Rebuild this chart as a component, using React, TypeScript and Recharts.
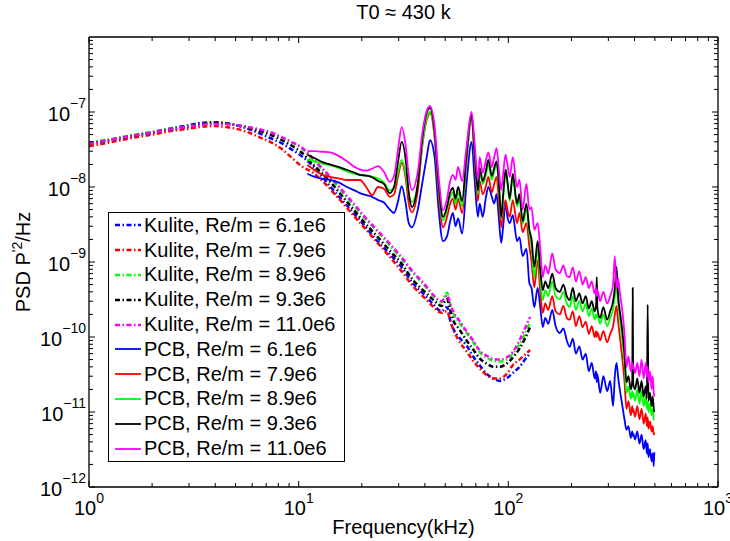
import React from 'react';
import { LineChart, Line, XAxis, YAxis, Legend } from 'recharts';

const kuliteFreq = [
  1, 1.3, 1.6, 2, 2.5, 3, 3.5, 4, 4.5, 5, 5.7, 6.5, 7.3, 8.2, 9.2, 10.3, 11.7, 13, 14.6, 16.5,
  18.5, 20.5, 23, 27, 31, 35, 40, 44, 48, 51, 53, 55, 58, 63, 68, 73, 79, 85, 91, 98,
  105, 113, 120, 127,
];

const kuliteBlue = [
  3.8e-8, 4.3e-8, 4.8e-8, 5.4e-8, 6.1e-8, 6.7e-8, 7.2e-8, 7.3e-8, 7.1e-8, 6.7e-8,
  6.0e-8, 5.2e-8, 4.5e-8, 3.9e-8, 3.2e-8, 2.6e-8, 1.9e-8, 1.35e-8, 9.1e-9, 6.2e-9,
  4.3e-9, 3.1e-9, 2.1e-9, 1.3e-9, 8.5e-10, 5.2e-10, 3.6e-10, 2.7e-10, 2.2e-10, 2.5e-10,
  1.6e-10, 1.24e-10, 1.0e-10, 7.8e-11, 5.5e-11, 4.2e-11, 3.2e-11, 2.8e-11, 2.6e-11, 2.8e-11,
  3.3e-11, 4.0e-11, 5.0e-11, 6.1e-11,
];
const kuliteRed = [
  3.5e-8, 4.0e-8, 4.5e-8, 5.0e-8, 5.6e-8, 6.0e-8, 6.4e-8, 6.5e-8, 6.3e-8, 6.0e-8,
  5.4e-8, 4.6e-8, 4.0e-8, 3.3e-8, 2.5e-8, 1.9e-8, 1.55e-8, 1.2e-8, 8.5e-9, 5.8e-9,
  4.0e-9, 2.9e-9, 2.0e-9, 1.2e-9, 7.5e-10, 4.8e-10, 3.3e-10, 2.5e-10, 2.1e-10, 2.2e-10,
  1.6e-10, 1.2e-10, 9e-11, 6.5e-11, 4.8e-11, 3.8e-11, 3.1e-11, 2.8e-11, 2.8e-11, 3.2e-11,
  4.2e-11, 5.0e-11, 5.8e-11, 6.7e-11,
];
const kuliteGreen = [
  3.9e-8, 4.4e-8, 4.9e-8, 5.4e-8, 6.0e-8, 6.5e-8, 6.9e-8, 7.0e-8, 6.9e-8, 6.7e-8,
  6.3e-8, 5.8e-8, 5.3e-8, 4.6e-8, 4.0e-8, 3.3e-8, 2.3e-8, 1.7e-8, 1.2e-8, 8e-9,
  5.5e-9, 3.9e-9, 2.8e-9, 1.7e-9, 1.1e-9, 7.2e-10, 4.8e-10, 3.5e-10, 2.9e-10, 3.9e-10,
  2.6e-10, 2.0e-10, 1.6e-10, 1.15e-10, 8.5e-11, 6.3e-11, 5.3e-11, 4.8e-11, 4.7e-11, 5.0e-11,
  6.0e-11, 8.0e-11, 1.1e-10, 1.6e-10,
];
const kuliteBlack = [
  3.8e-8, 4.3e-8, 4.8e-8, 5.3e-8, 5.9e-8, 6.4e-8, 6.9e-8, 7.1e-8, 7.0e-8, 6.7e-8,
  6.2e-8, 5.6e-8, 5.0e-8, 4.3e-8, 3.6e-8, 2.9e-8, 2.0e-8, 1.5e-8, 1.06e-8, 7e-9,
  4.8e-9, 3.4e-9, 2.4e-9, 1.45e-9, 9.5e-10, 5.8e-10, 4.0e-10, 3.1e-10, 2.6e-10, 3.2e-10,
  2.2e-10, 1.6e-10, 1.3e-10, 9.1e-11, 6.8e-11, 5.2e-11, 4.4e-11, 4.0e-11, 4.0e-11, 4.4e-11,
  5.3e-11, 7e-11, 9.5e-11, 1.36e-10,
];
const kuliteMagenta = [
  3.8e-8, 4.3e-8, 4.8e-8, 5.3e-8, 5.9e-8, 6.4e-8, 6.8e-8, 6.9e-8, 6.9e-8, 6.7e-8,
  6.3e-8, 5.9e-8, 5.4e-8, 4.7e-8, 4.0e-8, 3.4e-8, 2.4e-8, 1.75e-8, 1.25e-8, 8.4e-9,
  5.8e-9, 4.1e-9, 2.9e-9, 1.8e-9, 1.15e-9, 7.5e-10, 5.0e-10, 3.6e-10, 3.0e-10, 3.6e-10,
  2.7e-10, 2.1e-10, 1.7e-10, 1.2e-10, 9e-11, 6.6e-11, 5.6e-11, 5.1e-11, 5.0e-11, 5.3e-11,
  6.3e-11, 9e-11, 1.3e-10, 1.85e-10,
];

const pcbFreq = [
  11, 12, 13, 14.1, 15.5, 17, 18.5, 19.6, 21, 22.4, 23.9, 25.5, 27.2, 28.5, 29.8, 31, 32.4, 33.5, 34.7, 37, 39, 40.9,
  42.3, 44.5, 46.5, 48.8, 51, 52.8, 54.4, 56, 57.6, 60.2, 63, 66.8, 69, 71.6, 73, 75.5, 78, 80.3, 83.4, 85.6,
  87.9, 90, 92.5, 94.5, 97, 99, 101.5, 105, 110, 113, 117, 122, 126, 129, 133, 138,
  142, 146, 150, 155, 162, 168, 176, 183, 190, 196, 203, 210, 218, 226, 234, 242, 250, 258, 262, 264,
  266, 274, 284, 296, 306, 316, 322, 328, 334, 342, 350, 358, 366, 374, 384, 390, 392, 394, 402, 412,
  422, 432, 442, 452, 458, 462, 466, 474, 482, 488, 494, 497,
];

const pcbBlue = [
  1.5e-8, 1.35e-8, 1.28e-8, 1.24e-8, 1.15e-8, 1.0e-8, 9.0e-9, 8.3e-9, 7.8e-9, 7.4e-9, 6.7e-9, 6.2e-9, 5.0e-9, 4.5e-9, 6.5e-9, 1.03e-8, 6.0e-9, 3.3e-9, 2.9e-9, 5.0e-9, 1.2e-8, 2.6e-8,
  4.2e-8, 2.5e-8, 5e-9, 1.9e-9, 2.2e-9, 3.5e-9, 4.5e-9, 3e-9, 3.8e-9, 2.4e-9, 1.0e-8, 4.0e-8, 1.3e-8, 4e-9, 6e-9, 4e-9, 7e-9, 1.0e-8, 7.4e-9, 6e-9,
  8e-9, 4e-9, 1.8e-9, 3e-9, 6.1e-9, 4e-9, 3.3e-9, 4.2e-9, 1.9e-9, 2.15e-9, 1.2e-9, 1.5e-9, 5.2e-10, 4.5e-10, 2.5e-10, 4.5e-10,
  2.5e-10, 1.36e-10, 1.8e-10, 1.5e-10, 2.3e-10, 1.4e-10, 1.13e-10, 1.3e-10, 9e-11, 7.4e-11, 9.5e-11, 6e-11, 7.5e-11, 5e-11, 6e-11, 3.5e-11, 4.5e-11, 2.8e-11, 3.5e-11, 2.5e-11,
  3.2e-11, 1.8e-11, 3.0e-11, 1.9e-11, 2.6e-11, 1.2e-11, 3.0e-11, 4.5e-11, 2.9e-11, 1.8e-11, 1.2e-11, 8e-12, 5.8e-12, 6.5e-12, 4.5e-12, 5.5e-12, 4.8e-12, 5.2e-12, 4.3e-12, 5.5e-12,
  3.8e-12, 5e-12, 3.2e-12, 4.2e-12, 2.8e-12, 3.8e-12, 2.5e-12, 3.2e-12, 2.2e-12, 2.8e-12, 1.9e-12, 2.9e-12,
];
const pcbRed = [
  1.96e-8, 1.65e-8, 1.45e-8, 1.36e-8, 1.3e-8, 1.24e-8, 1.24e-8, 1.24e-8, 1.0e-8, 7.8e-9, 1.0e-8, 9.5e-9, 7.4e-9, 8.0e-9, 1.4e-8, 2.1e-8, 1.3e-8, 6.0e-9, 4.6e-9, 9.0e-9, 3.8e-8, 8.0e-8,
  9.7e-8, 4.5e-8, 8e-9, 2.9e-9, 4e-9, 6e-9, 7e-9, 5e-9, 7e-9, 4.5e-9, 2.0e-8, 8.6e-8, 2.5e-8, 6.5e-9, 1.2e-8, 8e-9, 1.0e-8, 1.36e-8, 8.5e-9, 1.1e-8,
  1.36e-8, 7e-9, 2.9e-9, 4.5e-9, 6.7e-9, 5e-9, 4e-9, 6.7e-9, 3.3e-9, 4.5e-9, 2.5e-9, 3.3e-9, 1.6e-9, 1.0e-9, 4.6e-10, 1.05e-9,
  4e-10, 2.1e-10, 2.8e-10, 2.3e-10, 3.5e-10, 2.2e-10, 2.0e-10, 2.6e-10, 1.8e-10, 1.7e-10, 2.2e-10, 1.4e-10, 1.9e-10, 1.35e-10, 1.6e-10, 1.1e-10, 1.4e-10, 1.0e-10, 1.2e-10, 1.0e-10,
  1.15e-10, 9e-11, 1.2e-10, 8.5e-11, 1.1e-10, 1.4e-10, 2.0e-10, 2.6e-10, 1.6e-10, 9e-11, 5e-11, 2.6e-11, 1.1e-11, 1.4e-11, 9e-12, 1.2e-11, 1.0e-11, 1.1e-11, 8.6e-12, 1.2e-11,
  8e-12, 1.1e-11, 7e-12, 9.5e-12, 6.5e-12, 8.5e-12, 6e-12, 7.5e-12, 5.5e-12, 6.5e-12, 5e-12, 5.3e-12,
];
const pcbGreen = [
  2.3e-8, 2.2e-8, 2.05e-8, 1.95e-8, 1.8e-8, 1.62e-8, 1.5e-8, 1.45e-8, 1.42e-8, 1.38e-8, 1.3e-8, 1.15e-8, 9.0e-9, 1.0e-8, 1.6e-8, 2.3e-8, 1.5e-8, 8.0e-9, 6.3e-9, 1.1e-8, 4.0e-8, 8.5e-8,
  1.0e-7, 5.0e-8, 1.0e-8, 3.6e-9, 5e-9, 7.5e-9, 8.5e-9, 6e-9, 8.5e-9, 5.5e-9, 2.2e-8, 8.5e-8, 2.8e-8, 8e-9, 1.6e-8, 1.1e-8, 1.4e-8, 2.0e-8, 1.25e-8, 1.6e-8,
  2.0e-8, 1.1e-8, 3.8e-9, 7e-9, 1.5e-8, 1.1e-8, 6.5e-9, 1.3e-8, 5.5e-9, 7e-9, 3.2e-9, 5e-9, 2.4e-9, 1.6e-9, 6.3e-10, 1.5e-9,
  6e-10, 3.1e-10, 4.2e-10, 3.5e-10, 5.5e-10, 3.5e-10, 3.2e-10, 4.0e-10, 2.8e-10, 2.5e-10, 3.5e-10, 2.3e-10, 3.0e-10, 2.2e-10, 2.8e-10, 1.9e-10, 2.4e-10, 1.7e-10, 2.0e-10, 1.8e-10,
  2.0e-10, 1.5e-10, 2.0e-10, 1.4e-10, 1.8e-10, 2.4e-10, 3.5e-10, 4.5e-10, 2.8e-10, 1.6e-10, 9e-11, 4.5e-11, 1.8e-11, 2.2e-11, 1.5e-11, 1.9e-11, 1.6e-11, 1.8e-11, 1.4e-11, 2.0e-11,
  1.3e-11, 1.9e-11, 1.2e-11, 1.6e-11, 1.1e-11, 1.4e-11, 1.0e-11, 1.3e-11, 9e-12, 1.1e-11, 8e-12, 7.8e-12,
];
const pcbBlack = [
  2.7e-8, 2.4e-8, 2.15e-8, 2.0e-8, 1.85e-8, 1.69e-8, 1.55e-8, 1.45e-8, 1.42e-8, 1.35e-8, 1.2e-8, 1.1e-8, 8.3e-9, 1.0e-8, 2.2e-8, 4.0e-8, 2.3e-8, 8.5e-9, 5.4e-9, 1.1e-8, 4.8e-8, 1.0e-7,
  1.13e-7, 5.5e-8, 1.1e-8, 4.0e-9, 5.5e-9, 8.5e-9, 9.7e-9, 7e-9, 1.0e-8, 6.5e-9, 2.5e-8, 9.0e-8, 3.0e-8, 9e-9, 1.8e-8, 1.2e-8, 1.6e-8, 2.3e-8, 1.4e-8, 1.8e-8,
  2.2e-8, 1.2e-8, 4.0e-9, 8e-9, 1.7e-8, 1.2e-8, 7e-9, 1.5e-8, 6e-9, 8e-9, 3.5e-9, 6e-9, 2.7e-9, 2.0e-9, 8.6e-10, 1.9e-9,
  8e-10, 4.2e-10, 5.5e-10, 4.5e-10, 7e-10, 4.5e-10, 4.0e-10, 5e-10, 3.5e-10, 3.1e-10, 4.5e-10, 3.0e-10, 3.8e-10, 2.8e-10, 3.5e-10, 2.4e-10, 3.0e-10, 2.2e-10, 2.6e-10, 6.3e-10,
  2.4e-10, 1.8e-10, 2.5e-10, 1.7e-10, 2.2e-10, 3.0e-10, 4.5e-10, 8.6e-10, 3.5e-10, 2.0e-10, 1.2e-10, 6e-11, 2.5e-11, 3.0e-11, 2.0e-11, 2.6e-11, 4.5e-10, 2.4e-11, 2.0e-11, 2.8e-11,
  1.8e-11, 2.6e-11, 1.6e-11, 2.2e-11, 1.5e-11, 2.7e-10, 1.4e-11, 1.8e-11, 1.2e-11, 1.6e-11, 1.1e-11, 1.0e-11,
];
const pcbMagenta = [
  3.0e-8, 3.0e-8, 2.95e-8, 2.9e-8, 2.6e-8, 2.2e-8, 1.85e-8, 1.7e-8, 1.65e-8, 1.75e-8, 1.9e-8, 1.6e-8, 1.17e-8, 1.4e-8, 3.2e-8, 6.3e-8, 3.5e-8, 1.4e-8, 9.1e-9, 1.6e-8, 5.5e-8, 1.05e-7,
  1.2e-7, 6.5e-8, 1.4e-8, 4.9e-9, 7e-9, 1.2e-8, 1.45e-8, 1.25e-8, 1.85e-8, 1.2e-8, 3.2e-8, 1.0e-7, 4.0e-8, 1.25e-8, 2.5e-8, 1.55e-8, 2.2e-8, 2.9e-8, 1.85e-8, 2.5e-8,
  3.3e-8, 1.8e-8, 9.1e-9, 1.5e-8, 2.7e-8, 2.0e-8, 1.36e-8, 2.5e-8, 1.0e-8, 1.25e-8, 5.0e-9, 1.1e-8, 5.0e-9, 5.4e-9, 2.7e-9, 3.3e-9,
  1.5e-9, 6.3e-10, 9e-10, 7e-10, 1.3e-9, 8e-10, 7.1e-10, 9e-10, 6.5e-10, 6.3e-10, 8.5e-10, 5.5e-10, 7.5e-10, 5e-10, 6.3e-10, 4.5e-10, 5.5e-10, 3.8e-10, 4.5e-10, 3.5e-10,
  4.2e-10, 3.0e-10, 4.0e-10, 2.8e-10, 3.5e-10, 5.0e-10, 1.2e-9, 4.5e-10, 6.0e-10, 3.5e-10, 2.2e-10, 1.1e-10, 4.0e-11, 5.5e-11, 3.5e-11, 4.5e-11, 3.8e-11, 4.2e-11, 3.3e-11, 4.5e-11,
  3.0e-11, 5.0e-11, 2.8e-11, 4.5e-11, 3.0e-11, 4.0e-11, 2.5e-11, 3.5e-11, 2.0e-11, 3.0e-11, 1.8e-11, 1.6e-11,
];

const reLabels = ['6.1e6', '7.9e6', '8.9e6', '9.3e6', '11.0e6'];
const colors = ['#0000ff', '#ff0000', '#00ff00', '#000000', '#ff00ff'];

const xTicks = [
  1, 2, 3, 4, 5, 6, 7, 8, 9, 10, 20, 30, 40, 50, 60, 70, 80, 90,
  100, 200, 300, 400, 500, 600, 700, 800, 900, 1000,
];
// top of the axis sits just under 1e-6, so no 10^-6 label there
const yTicks = [
  1e-12, 2e-12, 3e-12, 4e-12, 5e-12, 6e-12, 7e-12, 8e-12, 9e-12,
  1e-11, 2e-11, 3e-11, 4e-11, 5e-11, 6e-11, 7e-11, 8e-11, 9e-11,
  1e-10, 2e-10, 3e-10, 4e-10, 5e-10, 6e-10, 7e-10, 8e-10, 9e-10,
  1e-9, 2e-9, 3e-9, 4e-9, 5e-9, 6e-9, 7e-9, 8e-9, 9e-9,
  1e-8, 2e-8, 3e-8, 4e-8, 5e-8, 6e-8, 7e-8, 8e-8, 9e-8,
  1e-7, 2e-7, 3e-7, 4e-7, 5e-7, 6e-7, 7e-7, 8e-7, 9e-7,
];

const kuliteSeries = [kuliteBlue, kuliteRed, kuliteGreen, kuliteBlack, kuliteMagenta];
const pcbSeries = [pcbBlue, pcbRed, pcbGreen, pcbBlack, pcbMagenta];

const FONT = '"Liberation Sans", Arial, Helvetica, sans-serif';
const DASH = '5 2.5 1.5 2.5';

const toPoints = (freq: number[], vals: number[]) => freq.map((f, i) => ({ f, v: vals[i] }));

const isMajor = (v: number) => Math.abs(Math.log10(v) - Math.round(Math.log10(v))) < 1e-6;
const expOf = (v: number) => {
  const e = Math.round(Math.log10(v));
  return e < 0 ? `\u2212${-e}` : `${e}`;
};

function BottomTick({ x, y, payload }: any) {
  const v = payload.value;
  const major = isMajor(v);
  return (
    <g>
      <line x1={x} x2={x} y1={y} y2={y - (major ? 6 : 4)} stroke="#000" strokeWidth={1} />
      {major && (
        <text x={x} y={y + 28} textAnchor="middle" fontSize={20} fontFamily={FONT} fill="#000">
          10<tspan dy={-12} fontSize={14}>{expOf(v)}</tspan>
        </text>
      )}
    </g>
  );
}

function LeftTick({ x, y, payload }: any) {
  const v = payload.value;
  const major = isMajor(v);
  return (
    <g>
      <line x1={x} x2={x + (major ? 6 : 4)} y1={y} y2={y} stroke="#000" strokeWidth={1} />
      {major && (
        <text x={x - 3} y={y + 9} textAnchor="end" fontSize={20} fontFamily={FONT} fill="#000">
          10<tspan dy={-13} fontSize={14}>{expOf(v)}</tspan>
        </text>
      )}
    </g>
  );
}

function TopTick({ x, y, payload }: any) {
  const major = isMajor(payload.value);
  return <line x1={x} x2={x} y1={y} y2={y + (major ? 6 : 4)} stroke="#000" strokeWidth={1} />;
}

function RightTick({ x, y, payload }: any) {
  const major = isMajor(payload.value);
  return <line x1={x} x2={x - (major ? 6 : 4)} y1={y} y2={y} stroke="#000" strokeWidth={1} />;
}

function LegendBox() {
  const rows = [
    ...reLabels.map((re, i) => ({ label: `Kulite, Re/m = ${re}`, color: colors[i], dashed: true })),
    ...reLabels.map((re, i) => ({ label: `PCB, Re/m = ${re}`, color: colors[i], dashed: false })),
  ];
  return (
    <div
      style={{
        border: '1px solid #000',
        background: '#fff',
        width: 235,
        fontFamily: FONT,
        fontSize: 20,
        color: '#000',
      }}
    >
      {rows.map((r) => (
        <div key={r.label} style={{ height: 24.8, display: 'flex', alignItems: 'center', whiteSpace: 'nowrap' }}>
          <svg width={35} height={10} style={{ flex: 'none' }}>
            <line
              x1={6}
              x2={32}
              y1={5}
              y2={5}
              stroke={r.color}
              strokeWidth={r.dashed ? 2.5 : 1.8}
              strokeDasharray={r.dashed ? DASH : undefined}
            />
          </svg>
          <span>{r.label}</span>
        </div>
      ))}
    </div>
  );
}

const axisLine = { stroke: '#000', strokeWidth: 1.3 };

export default function App() {
  return (
    <div style={{ position: 'absolute', left: 0, top: 0, background: '#fff' }}>
      <LineChart width={730} height={541} margin={{ top: 36, right: 11, bottom: 53, left: 88 }}>
        <XAxis
          xAxisId="b"
          dataKey="f"
          type="number"
          scale="log"
          domain={[1, 1000]}
          allowDataOverflow
          ticks={xTicks}
          interval={0}
          height={1}
          tickSize={0}
          tickMargin={0}
          tickLine={false}
          axisLine={axisLine}
          tick={<BottomTick />}
          label={{
            content: ({ viewBox }: any) => (
              <text
                x={viewBox.x + viewBox.width / 2}
                y={viewBox.y + 47}
                textAnchor="middle"
                fontSize={20}
                fontFamily={FONT}
                fill="#000"
              >
                Frequency(kHz)
              </text>
            ),
          }}
        />
        <XAxis
          xAxisId="t"
          dataKey="f"
          type="number"
          scale="log"
          domain={[1, 1000]}
          allowDataOverflow
          orientation="top"
          ticks={xTicks}
          interval={0}
          height={1}
          tickSize={0}
          tickMargin={0}
          tickLine={false}
          axisLine={axisLine}
          tick={<TopTick />}
          label={{
            content: ({ viewBox }: any) => (
              <text
                x={viewBox.x + viewBox.width / 2}
                y={viewBox.y - 17}
                textAnchor="middle"
                fontSize={20}
                fontFamily={FONT}
                fill="#000"
              >
                T0 ≈ 430 k
              </text>
            ),
          }}
        />
        <YAxis
          yAxisId="l"
          type="number"
          scale="log"
          domain={[1e-12, 1e-6]}
          allowDataOverflow
          ticks={yTicks}
          interval={0}
          width={1}
          tickSize={0}
          tickMargin={0}
          tickLine={false}
          axisLine={axisLine}
          tick={<LeftTick />}
          label={{
            content: () => (
              <text
                transform="translate(30,262) rotate(-90)"
                textAnchor="middle"
                fontSize={20}
                fontFamily={FONT}
                fill="#000"
              >
                PSD P<tspan dy={-8} fontSize={14}>'2</tspan>
                <tspan dy={8}>/Hz</tspan>
              </text>
            ),
          }}
        />
        <YAxis
          yAxisId="r"
          type="number"
          scale="log"
          domain={[1e-12, 1e-6]}
          allowDataOverflow
          orientation="right"
          ticks={yTicks}
          interval={0}
          width={1}
          tickSize={0}
          tickMargin={0}
          tickLine={false}
          axisLine={axisLine}
          tick={<RightTick />}
        />
        {kuliteSeries.map((vals, i) => (
          <Line
            key={`k${i}`}
            xAxisId="b"
            yAxisId="l"
            data={toPoints(kuliteFreq, vals)}
            dataKey="v"
            type="monotone"
            stroke={colors[i]}
            strokeWidth={2.5}
            strokeDasharray={DASH}
            dot={false}
            activeDot={false}
            isAnimationActive={false}
          />
        ))}
        {pcbSeries.map((vals, i) => (
          <Line
            key={`p${i}`}
            xAxisId="b"
            yAxisId="l"
            data={toPoints(pcbFreq, vals)}
            dataKey="v"
            type="monotone"
            stroke={colors[i]}
            strokeWidth={1.8}
            dot={false}
            activeDot={false}
            isAnimationActive={false}
          />
        ))}
        <Legend
          layout="vertical"
          align="center"
          verticalAlign="middle"
          wrapperStyle={{ position: 'absolute', left: 108, top: 212, width: 237, height: 'auto' }}
          content={() => <LegendBox />}
        />
      </LineChart>
    </div>
  );
}
